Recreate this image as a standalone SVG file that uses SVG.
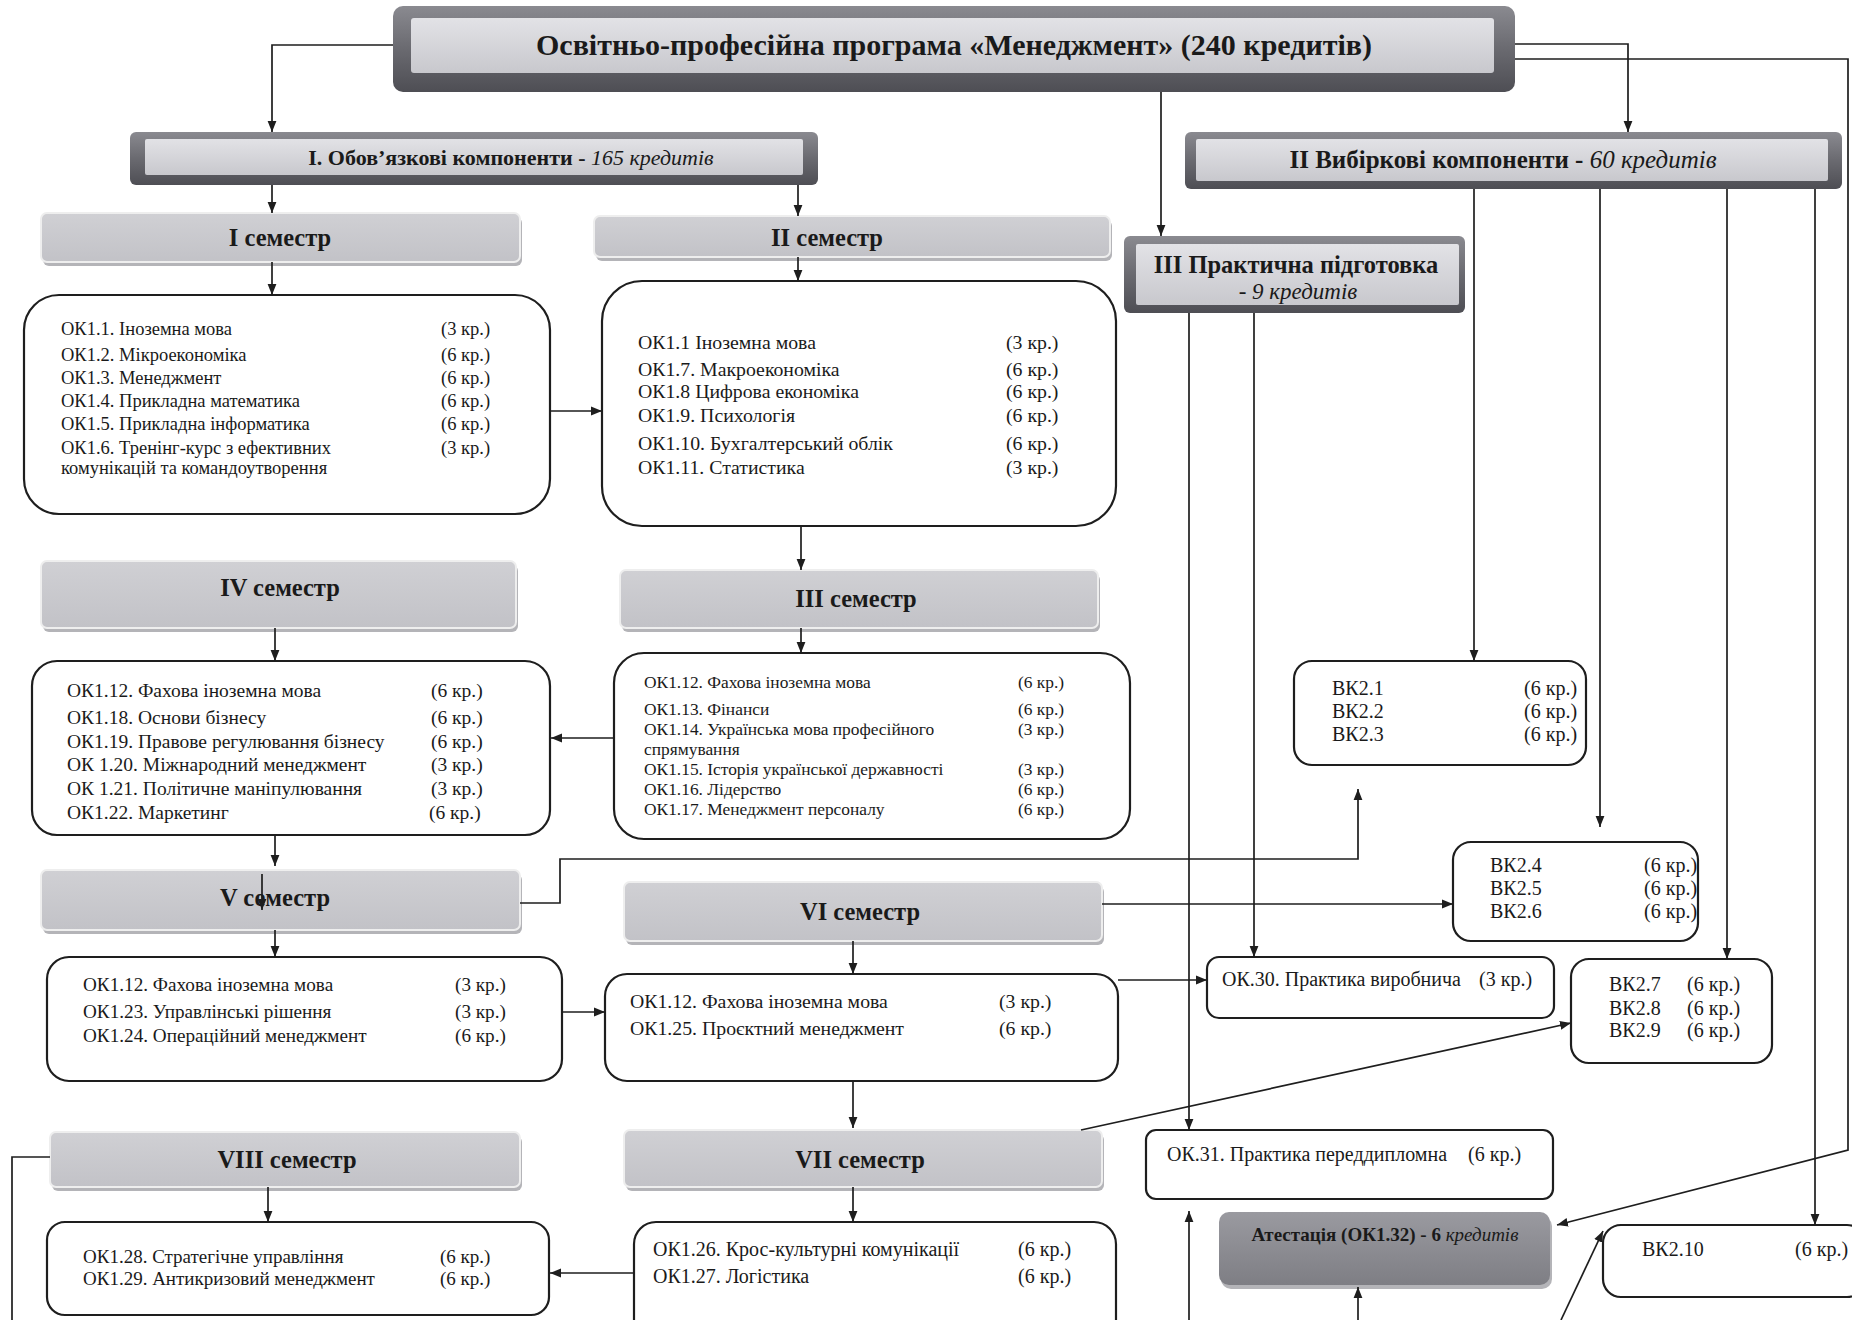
<svg xmlns="http://www.w3.org/2000/svg" width="1852" height="1320" viewBox="0 0 1852 1320">
<defs>
<linearGradient id="gFrame" x1="0" y1="0" x2="0" y2="1"><stop offset="0" stop-color="#8a8a90"/><stop offset="0.5" stop-color="#6a6a70"/><stop offset="1" stop-color="#4e4e54"/></linearGradient>
<linearGradient id="gPanel" x1="0" y1="0" x2="0" y2="1"><stop offset="0" stop-color="#e2e2e6"/><stop offset="1" stop-color="#c8c8cd"/></linearGradient>
<linearGradient id="gSem" x1="0" y1="0" x2="0" y2="1"><stop offset="0" stop-color="#d0d0d4"/><stop offset="1" stop-color="#c2c2c7"/></linearGradient>
<linearGradient id="gAtt" x1="0" y1="0" x2="0" y2="1"><stop offset="0" stop-color="#9a9aa0"/><stop offset="1" stop-color="#7e7e84"/></linearGradient>
<marker id="ah" viewBox="0 0 10 10" refX="10" refY="5" markerWidth="11" markerHeight="11" markerUnits="userSpaceOnUse" orient="auto"><path d="M0,1 L10,5 L0,9 z" fill="#1e1e1e"/></marker>
</defs>
<style>
text{font-family:"Liberation Serif","Times New Roman",serif;fill:#1a1a1a}
.frame{fill:url(#gFrame)}
.panel{fill:url(#gPanel)}
.sem{fill:url(#gSem);stroke:#eeeeee;stroke-width:2}
.shadow{fill:#b4b4b8}
.box{fill:#ffffff;stroke:#1e1e1e;stroke-width:2.2}
.att{fill:url(#gAtt)}
.h{font-weight:bold;text-anchor:middle}
.hs{font-size:24.5px}
.it{font-style:italic;font-weight:normal}
.t{font-size:20px}
.c{fill:none;stroke:#1e1e1e;stroke-width:1.7}
.a{marker-end:url(#ah)}
</style>

<g id="title">
<rect class="frame" x="393" y="6" width="1122" height="86" rx="10"/>
<rect class="panel" x="411" y="18" width="1083" height="55" rx="3"/>
<text class="h" x="954" y="55" font-size="30">Освітньо-професійна програма «Менеджмент» (240 кредитів)</text>
</g>

<g id="mandatory">
<rect class="frame" x="130" y="132" width="688" height="53" rx="6"/>
<rect class="panel" x="145" y="139" width="658" height="36" rx="2"/>
<text class="h" x="511" y="165" font-size="22">I. Обов’язкові компоненти - <tspan class="it">165 кредитів</tspan></text>
</g>

<g id="elective">
<rect class="frame" x="1185" y="132" width="657" height="57" rx="6"/>
<rect class="panel" x="1196" y="139" width="632" height="42" rx="2"/>
<text class="h" x="1503" y="168" font-size="25">II Вибіркові компоненти - <tspan class="it">60 кредитів</tspan></text>
</g>

<g id="practice">
<rect class="frame" x="1124" y="236" width="341" height="77" rx="6"/>
<rect class="panel" x="1136" y="244" width="323" height="61" rx="2"/>
<text class="h" x="1296" y="273" font-size="24.5">III Практична підготовка</text>
<text class="h" x="1298" y="299" font-size="23"><tspan class="it">- 9 кредитів</tspan></text>
</g>

<g id="sem1">
<rect class="shadow" x="43" y="217" width="479" height="49" rx="6"/>
<rect class="sem" x="41" y="213" width="479" height="49" rx="6"/>
<text class="h hs" x="280" y="246">I семестр</text>
</g>
<g id="sem2">
<rect class="shadow" x="596" y="220" width="516" height="41" rx="6"/>
<rect class="sem" x="594" y="216" width="516" height="41" rx="6"/>
<text class="h hs" x="827" y="246">II семестр</text>
</g>
<g id="sem4">
<rect class="shadow" x="43" y="565" width="475" height="67" rx="6"/>
<rect class="sem" x="41" y="561" width="475" height="67" rx="6"/>
<text class="h hs" x="280" y="596">IV семестр</text>
</g>
<g id="sem3">
<rect class="shadow" x="622" y="574" width="478" height="58" rx="6"/>
<rect class="sem" x="620" y="570" width="478" height="58" rx="6"/>
<text class="h hs" x="856" y="607">III семестр</text>
</g>
<g id="sem5">
<rect class="shadow" x="43" y="874" width="479" height="60" rx="6"/>
<rect class="sem" x="41" y="870" width="479" height="60" rx="6"/>
<text class="h hs" x="275" y="906">V семестр</text>
</g>
<g id="sem6">
<rect class="shadow" x="626" y="886" width="478" height="59" rx="6"/>
<rect class="sem" x="624" y="882" width="478" height="59" rx="6"/>
<text class="h hs" x="860" y="920">VI семестр</text>
</g>
<g id="sem8">
<rect class="shadow" x="52" y="1136" width="470" height="55" rx="6"/>
<rect class="sem" x="50" y="1132" width="470" height="55" rx="6"/>
<text class="h hs" x="287" y="1168">VIII семестр</text>
</g>
<g id="sem7">
<rect class="shadow" x="626" y="1134" width="478" height="57" rx="6"/>
<rect class="sem" x="624" y="1130" width="478" height="57" rx="6"/>
<text class="h hs" x="860" y="1168">VII семестр</text>
</g>

<g id="box1">
<rect class="box" x="24" y="295" width="526" height="219" rx="35"/>
<g font-size="18.5">
<text x="61" y="335">ОК1.1. Іноземна мова</text><text x="441" y="335">(3 кр.)</text>
<text x="61" y="361">ОК1.2. Мікроекономіка</text><text x="441" y="361">(6 кр.)</text>
<text x="61" y="384">ОК1.3. Менеджмент</text><text x="441" y="384">(6 кр.)</text>
<text x="61" y="407">ОК1.4. Прикладна математика</text><text x="441" y="407">(6 кр.)</text>
<text x="61" y="430">ОК1.5. Прикладна інформатика</text><text x="441" y="430">(6 кр.)</text>
<text x="61" y="454">ОК1.6. Тренінг-курс з ефективних</text><text x="441" y="454">(3 кр.)</text>
<text x="61" y="474">комунікацій та командоутворення</text>
</g>
</g>

<g id="box2">
<rect class="box" x="602" y="281" width="514" height="245" rx="40"/>
<g font-size="19.8">
<text x="638" y="349">ОК1.1 Іноземна мова</text><text x="1006" y="349">(3 кр.)</text>
<text x="638" y="376">ОК1.7. Макроекономіка</text><text x="1006" y="376">(6 кр.)</text>
<text x="638" y="398">ОК1.8 Цифрова економіка</text><text x="1006" y="398">(6 кр.)</text>
<text x="638" y="422">ОК1.9. Психологія</text><text x="1006" y="422">(6 кр.)</text>
<text x="638" y="450">ОК1.10. Бухгалтерський облік</text><text x="1006" y="450">(6 кр.)</text>
<text x="638" y="474">ОК1.11. Статистика</text><text x="1006" y="474">(3 кр.)</text>
</g>
</g>

<g id="box3">
<rect class="box" x="614" y="653" width="516" height="186" rx="30"/>
<g font-size="17.4">
<text x="644" y="688">ОК1.12. Фахова іноземна мова</text><text x="1018" y="688">(6 кр.)</text>
<text x="644" y="715">ОК1.13. Фінанси</text><text x="1018" y="715">(6 кр.)</text>
<text x="644" y="735">ОК1.14. Українська мова професійного</text><text x="1018" y="735">(3 кр.)</text>
<text x="644" y="755">спрямування</text>
<text x="644" y="775">ОК1.15. Історія української державності</text><text x="1018" y="775">(3 кр.)</text>
<text x="644" y="795">ОК1.16. Лідерство</text><text x="1018" y="795">(6 кр.)</text>
<text x="644" y="815">ОК1.17. Менеджмент персоналу</text><text x="1018" y="815">(6 кр.)</text>
</g>
</g>

<g id="box4">
<rect class="box" x="32" y="661" width="518" height="174" rx="25"/>
<g font-size="19.5">
<text x="67" y="697">ОК1.12. Фахова іноземна мова</text><text x="431" y="697">(6 кр.)</text>
<text x="67" y="724">ОК1.18. Основи бізнесу</text><text x="431" y="724">(6 кр.)</text>
<text x="67" y="748">ОК1.19. Правове регулювання бізнесу</text><text x="431" y="748">(6 кр.)</text>
<text x="67" y="771">ОК 1.20. Міжнародний менеджмент</text><text x="431" y="771">(3 кр.)</text>
<text x="67" y="795">ОК 1.21. Політичне маніпулювання</text><text x="431" y="795">(3 кр.)</text>
<text x="67" y="819">ОК1.22. Маркетинг</text><text x="429" y="819">(6 кр.)</text>
</g>
</g>

<g id="box5">
<rect class="box" x="47" y="957" width="515" height="124" rx="22"/>
<g font-size="19.2">
<text x="83" y="991">ОК1.12. Фахова іноземна мова</text><text x="455" y="991">(3 кр.)</text>
<text x="83" y="1018">ОК1.23. Управлінські рішення</text><text x="455" y="1018">(3 кр.)</text>
<text x="83" y="1042">ОК1.24. Операційний менеджмент</text><text x="455" y="1042">(6 кр.)</text>
</g>
</g>

<g id="box6">
<rect class="box" x="605" y="974" width="513" height="107" rx="22"/>
<g font-size="19.8">
<text x="630" y="1008">ОК1.12. Фахова іноземна мова</text><text x="999" y="1008">(3 кр.)</text>
<text x="630" y="1035">ОК1.25. Проєктний менеджмент</text><text x="999" y="1035">(6 кр.)</text>
</g>
</g>

<g id="box7">
<rect class="box" x="634" y="1222" width="482" height="120" rx="22"/>
<g font-size="20">
<text x="653" y="1256">ОК1.26. Крос-культурні комунікації</text><text x="1018" y="1256">(6 кр.)</text>
<text x="653" y="1283">ОК1.27. Логістика</text><text x="1018" y="1283">(6 кр.)</text>
</g>
</g>

<g id="box8">
<rect class="box" x="47" y="1222" width="502" height="93" rx="18"/>
<g font-size="19">
<text x="83" y="1263">ОК1.28.  Стратегічне управління</text><text x="440" y="1263">(6 кр.)</text>
<text x="83" y="1285">ОК1.29.  Антикризовий менеджмент</text><text x="440" y="1285">(6 кр.)</text>
</g>
</g>

<g id="vk1">
<rect class="box" x="1294" y="661" width="292" height="104" rx="18"/>
<g class="t">
<text x="1332" y="695">ВК2.1</text><text x="1524" y="695">(6 кр.)</text>
<text x="1332" y="718">ВК2.2</text><text x="1524" y="718">(6 кр.)</text>
<text x="1332" y="741">ВК2.3</text><text x="1524" y="741">(6 кр.)</text>
</g>
</g>

<g id="vk2">
<rect class="box" x="1453" y="842" width="245" height="99" rx="18"/>
<g class="t">
<text x="1490" y="872">ВК2.4</text><text x="1644" y="872">(6 кр.)</text>
<text x="1490" y="895">ВК2.5</text><text x="1644" y="895">(6 кр.)</text>
<text x="1490" y="918">ВК2.6</text><text x="1644" y="918">(6 кр.)</text>
</g>
</g>

<g id="ok30">
<rect class="box" x="1207" y="957" width="347" height="61" rx="12"/>
<text class="t" x="1222" y="986">ОК.30. Практика виробнича</text><text class="t" x="1479" y="986">(3 кр.)</text>
</g>

<g id="vk3">
<rect class="box" x="1571" y="959" width="201" height="104" rx="18"/>
<g class="t">
<text x="1609" y="991">ВК2.7</text><text x="1687" y="991">(6 кр.)</text>
<text x="1609" y="1015">ВК2.8</text><text x="1687" y="1015">(6 кр.)</text>
<text x="1609" y="1037">ВК2.9</text><text x="1687" y="1037">(6 кр.)</text>
</g>
</g>

<g id="ok31">
<rect class="box" x="1146" y="1130" width="407" height="69" rx="10"/>
<text class="t" x="1167" y="1161">ОК.31. Практика переддипломна</text><text class="t" x="1468" y="1161">(6 кр.)</text>
</g>

<g id="attestation">
<rect class="shadow" x="1221" y="1216" width="331" height="73" rx="10"/>
<rect class="att" x="1219" y="1212" width="331" height="73" rx="10"/>
<text class="h" x="1385" y="1241" font-size="19">Атестація (ОК1.32) - 6 <tspan class="it">кредитів</tspan></text>
</g>

<g id="vk10">
<rect class="box" x="1603" y="1225" width="262" height="72" rx="18"/>
<text class="t" x="1642" y="1256">ВК2.10</text><text class="t" x="1795" y="1256">(6 кр.)</text>
</g>

<g id="connectors">
<path class="c a" d="M393,45 H272 V132"/>
<path class="c a" d="M1161,92 V236"/>
<path class="c a" d="M1515,44 H1628 V132"/>
<path class="c a" d="M1515,59 H1848 V1150 L1557,1225"/>
<path class="c a" d="M272,185 V213"/>
<path class="c a" d="M798,185 V216"/>
<path class="c a" d="M272,262 V295"/>
<path class="c a" d="M798,257 V281"/>
<path class="c a" d="M550,411 H602"/>
<path class="c a" d="M801,526 V570"/>
<path class="c a" d="M801,628 V653"/>
<path class="c a" d="M614,738 H551"/>
<path class="c a" d="M275,628 V661"/>
<path class="c a" d="M275,835 V866"/>
<path class="c a" d="M262,874 V910"/>
<path class="c a" d="M275,930 V957"/>
<path class="c a" d="M562,1012 H605"/>
<path class="c a" d="M520,903 H560 V859 H1358 V789"/>
<path class="c a" d="M853,941 V974"/>
<path class="c a" d="M1102,904 H1453"/>
<path class="c a" d="M1118,980 H1207"/>
<path class="c a" d="M853,1081 V1128"/>
<path class="c a" d="M1081,1130 L1571,1023"/>
<path class="c a" d="M853,1187 V1222"/>
<path class="c a" d="M634,1273 H550"/>
<path class="c a" d="M268,1187 V1222"/>
<path class="c" d="M50,1157 H12 V1320"/>
<path class="c a" d="M1189,313 V1130"/>
<path class="c a" d="M1254,313 V957"/>
<path class="c a" d="M1474,189 V661"/>
<path class="c a" d="M1600,189 V827"/>
<path class="c a" d="M1727,189 V959"/>
<path class="c a" d="M1815,189 V1225"/>
<path class="c a" d="M1189,1320 V1211"/>
<path class="c a" d="M1358,1320 V1287"/>
<path class="c a" d="M1561,1320 L1603,1231"/>
</g>
</svg>
